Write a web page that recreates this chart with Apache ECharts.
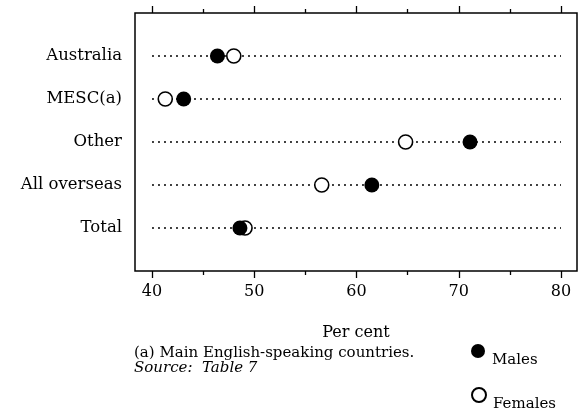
<!DOCTYPE html>
<html>
<head>
<meta charset="utf-8">
<script src="https://cdn.jsdelivr.net/npm/echarts@6/dist/echarts.min.js"></script>
<style>
  html, body { margin: 0; padding: 0; background: #fff; }
  #chart { width: 585px; height: 414px; }
</style>
</head>
<body>
<div id="chart"></div>
<script>
// data
const categories = ['Australia', 'MESC(a)', 'Other', 'All overseas', 'Total'];
const males = [46.4, 43.1, 71.1, 61.5, 48.6];
const females = [48.0, 41.3, 64.8, 56.6, 49.1];
const tickLabels = [40, 50, 60, 70, 80];
const minorTicks = [45, 55, 65, 75];

const serif = 'DejaVu Serif';

window.addEventListener('load', function () {
    const chart = echarts.init(document.getElementById('chart'));

    // one empty slot above and below so rows sit like the original
    const yData = [''].concat(categories, ['']);
    const xMin = 38.34, xMax = 81.56;

    // dotted guide lines, one per row, from first to last tick
    const guides = categories.map(function (c) {
        return {
            type: 'line',
            silent: true,
            symbol: 'none',
            z: 1,
            lineStyle: { color: '#000', width: 1.3, type: [2, 4] },
            data: [[tickLabels[0], c], [tickLabels[tickLabels.length - 1], c]]
        };
    });

    function tickAxis(pos, values, len, withLabels) {
        return {
            type: 'value',
            position: pos,
            min: xMin,
            max: xMax,
            axisLine: { show: false },
            splitLine: { show: false },
            axisTick: {
                show: true,
                customValues: values,
                length: len,
                lineStyle: { color: '#000', width: 1.3 }
            },
            axisLabel: withLabels ? {
                customValues: values,
                color: '#000',
                fontFamily: serif,
                fontSize: 16,
                margin: 13
            } : { show: false }
        };
    }

    const xBottom = tickAxis('bottom', tickLabels, 7, true);
    xBottom.name = 'Per cent';
    xBottom.nameLocation = 'middle';
    xBottom.nameGap = 54;
    xBottom.nameTextStyle = { color: '#000', fontFamily: serif, fontSize: 16 };

    // legend entries sit one under the other, text a little below the dot
    function legendItem(name, top) {
        return {
            data: [name],
            left: 471,
            top: top,
            itemWidth: 14,
            itemHeight: 14,
            icon: 'circle',
            padding: 0,
            formatter: '{t|{name}}',
            textStyle: {
                color: '#000', fontFamily: serif, fontSize: 15,
                rich: { t: { color: '#000', fontFamily: serif, fontSize: 15, padding: [18, 0, 0, 2] } }
            }
        };
    }

    const option = {
        backgroundColor: '#fff',
        animation: false,
        grid: {
            left: 135, right: 8, top: 13, bottom: 143,
            show: true, borderColor: '#000', borderWidth: 1.5
        },
        title: {
            left: 134,
            top: 346,
            itemGap: 0,
            text: '(a) Main English-speaking countries.',
            subtext: 'Source:  Table 7',
            textStyle: { color: '#000', fontFamily: serif, fontSize: 15, lineHeight: 15, fontWeight: 'normal' },
            subtextStyle: { color: '#000', fontFamily: serif, fontSize: 15, lineHeight: 15, fontStyle: 'italic' },
            padding: 0
        },
        legend: [legendItem('Males', 344), legendItem('Females', 387)],
        xAxis: [
            xBottom,
            tickAxis('bottom', minorTicks, 4, false),
            tickAxis('top', tickLabels, 7, false),
            tickAxis('top', minorTicks, 4, false)
        ],
        yAxis: {
            type: 'category',
            inverse: true,
            boundaryGap: false,
            data: yData,
            axisLine: { show: false },
            axisTick: { show: false },
            splitLine: { show: false },
            axisLabel: { color: '#000', fontFamily: serif, fontSize: 16.5, margin: 13 }
        },
        series: guides.concat([
            {
                name: 'Females',
                type: 'scatter',
                z: 3,
                symbolSize: 14,
                itemStyle: { color: '#fff', borderColor: '#000', borderWidth: 1.6, opacity: 1 },
                data: females.map(function (v, i) { return [v, categories[i]]; })
            },
            {
                name: 'Males',
                type: 'scatter',
                z: 4,
                symbolSize: 15,
                itemStyle: { color: '#000', opacity: 1 },
                data: males.map(function (v, i) { return [v, categories[i]]; })
            }
        ])
    };

    chart.setOption(option);
});
</script>
</body>
</html>
